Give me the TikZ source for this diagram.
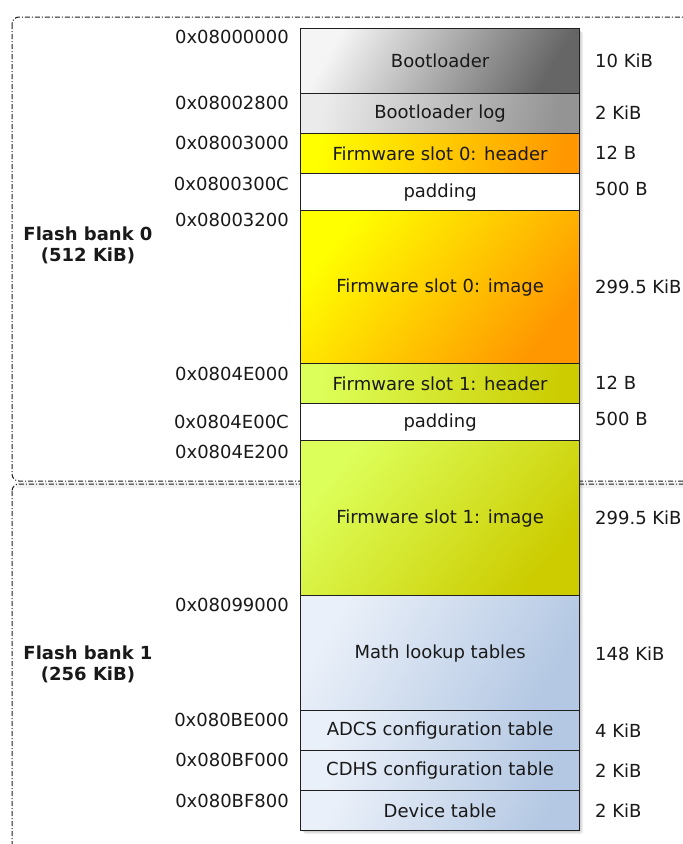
\documentclass[tikz,border=0pt]{standalone}
\usepackage{fontspec}
\setmainfont{DejaVu Sans}
\begin{document}
\begin{tikzpicture}[x=1pt,y=-1pt,
  every node/.style={font=\fontsize{18}{22}\selectfont, text=black!90},
  region/.style={draw=black!88, line width=1.2pt, minimum width=279pt, inner sep=0pt, anchor=north west},
  addr/.style={anchor=east, inner sep=0pt},
  size/.style={anchor=west, inner sep=0pt},
  bank/.style={draw=black!88, line width=1pt, rounded corners=7pt,
               dash pattern=on 5pt off 2pt on 1pt off 2pt},
  banklabel/.style={align=center, font=\fontsize{18}{21}\selectfont\bfseries, inner sep=0pt},
  greyA/.style={shading=axis, left color=black!4, right color=black!60, shading angle=60},
  greyB/.style={shading=axis, left color=black!8, right color=black!42, shading angle=75},
  orangeH/.style={shading=axis, left color=yellow, right color={rgb,255:red,255;green,152;blue,0}, shading angle=80},
  orangeI/.style={shading=axis, left color=yellow, right color={rgb,255:red,255;green,152;blue,0}, shading angle=50},
  limeH/.style={shading=axis, left color={rgb,255:red,221;green,255;blue,90}, right color={rgb,255:red,204;green,204;blue,0}, shading angle=80},
  limeI/.style={shading=axis, left color={rgb,255:red,221;green,255;blue,90}, right color={rgb,255:red,204;green,204;blue,0}, shading angle=50},
  blueI/.style={shading=axis, left color={rgb,255:red,234;green,240;blue,249}, right color={rgb,255:red,180;green,200;blue,227}, shading angle=60},
]
\useasboundingbox (0,0) rectangle (683,844);
\fill[white] (0,0) rectangle (683,844);

% faint shadow along the bottom edge of bank 0
\foreach \k in {1,...,6} {
  \draw[black, opacity=0.05, line width=1pt] (16,481+\k) -- (683,481+\k);
}

% flash bank frames
\draw[bank] (12,17) rectangle (720,481);
\draw[bank] (12,484) rectangle (720,900);

% soft shadow under the memory column
\foreach \k in {1,...,4} {
  \fill[black, opacity=0.06, rounded corners=2pt] (300+\k,28+\k) rectangle (579+\k,830+\k);
}

% memory regions, top to bottom
\node[region, greyA,  minimum height=65pt]  (boot)   at (300,28)  {Bootloader};
\node[region, greyB,  minimum height=40pt]  (bootlog) at (300,93) {Bootloader log};
\node[region, orangeH, minimum height=40pt] (hdr0)   at (300,133) {Firmware slot 0: header};
\node[region, fill=white, minimum height=37pt] (pad0) at (300,173) {padding};
\node[region, orangeI, minimum height=153pt] (img0)  at (300,210) {Firmware slot 0: image};
\node[region, limeH, minimum height=40pt]   (hdr1)   at (300,363) {Firmware slot 1: header};
\node[region, fill=white, minimum height=37pt] (pad1) at (300,403) {padding};
\node[region, limeI, minimum height=155pt]  (img1)   at (300,440) {Firmware slot 1: image};
\node[region, blueI, minimum height=115pt]  (math)   at (300,595) {Math lookup tables};
\node[region, blueI, minimum height=40pt]   (adcs)   at (300,710) {ADCS configuration table};
\node[region, blueI, minimum height=40pt]   (cdhs)   at (300,750) {CDHS configuration table};
\node[region, blueI, minimum height=40pt]   (dev)    at (300,790) {Device table};

% start addresses
\node[addr] (a0)  at (289,37)  {0x08000000};
\node[addr] (a1)  at (289,103) {0x08002800};
\node[addr] (a2)  at (289,143) {0x08003000};
\node[addr] (a3)  at (289,184) {0x0800300C};
\node[addr] (a4)  at (289,220) {0x08003200};
\node[addr] (a5)  at (289,374) {0x0804E000};
\node[addr] (a6)  at (289,422) {0x0804E00C};
\node[addr] (a7)  at (289,452) {0x0804E200};
\node[addr] (a8)  at (289,605) {0x08099000};
\node[addr] (a9)  at (289,720) {0x080BE000};
\node[addr] (a10) at (289,760) {0x080BF000};
\node[addr] (a11) at (289,801) {0x080BF800};

% region sizes
\node[size] (s0)  at (595,61)  {10 KiB};
\node[size] (s1)  at (595,113) {2 KiB};
\node[size] (s2)  at (595,153) {12 B};
\node[size] (s3)  at (595,189) {500 B};
\node[size] (s4)  at (595,287) {299.5 KiB};
\node[size] (s5)  at (595,383) {12 B};
\node[size] (s6)  at (595,419) {500 B};
\node[size] (s7)  at (595,518) {299.5 KiB};
\node[size] (s8)  at (595,654) {148 KiB};
\node[size] (s9)  at (595,731) {4 KiB};
\node[size] (s10) at (595,771) {2 KiB};
\node[size] (s11) at (595,811) {2 KiB};

% bank names
\node[banklabel] (b0) at (88,245.5) {Flash bank 0\\(512 KiB)};
\node[banklabel] (b1) at (88,664.5) {Flash bank 1\\(256 KiB)};
\end{tikzpicture}
\end{document}
